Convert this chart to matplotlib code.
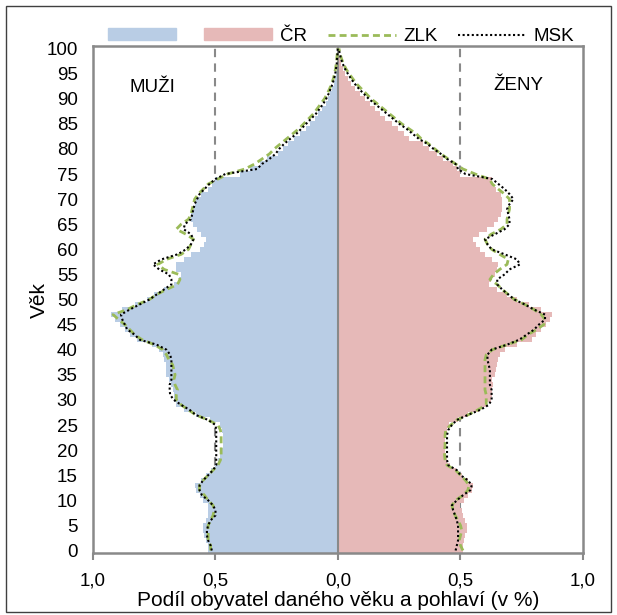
import matplotlib
matplotlib.use("Agg")
import matplotlib.pyplot as plt
from matplotlib.patches import Patch, Rectangle
from matplotlib.lines import Line2D
import numpy as np

plt.rcParams['font.family'] = ['Liberation Sans', 'DejaVu Sans']

ages = np.arange(0, 101)

# podíl mužů v ČR (v %) podle věku 0..100
men_cr = [0.53, 0.53, 0.54, 0.545, 0.55, 0.55, 0.54, 0.53, 0.53, 0.53,
          0.55, 0.565, 0.58, 0.585, 0.56, 0.54, 0.52, 0.50, 0.49, 0.48,
          0.475, 0.47, 0.47, 0.47, 0.475, 0.48, 0.524, 0.58, 0.63, 0.66,
          0.67, 0.67, 0.675, 0.68, 0.69, 0.70, 0.70, 0.70, 0.71, 0.715,
          0.73, 0.76, 0.82, 0.85, 0.87, 0.89, 0.91, 0.925, 0.88, 0.83,
          0.78, 0.75, 0.71, 0.67, 0.65, 0.64, 0.66, 0.66, 0.63, 0.60,
          0.565, 0.545, 0.537, 0.56, 0.575, 0.59, 0.60, 0.60, 0.59, 0.585,
          0.578, 0.56, 0.53, 0.515, 0.50, 0.40, 0.36, 0.32, 0.29, 0.245,
          0.225, 0.205, 0.18, 0.155, 0.13, 0.115, 0.095, 0.08, 0.065, 0.05,
          0.04, 0.032, 0.025, 0.018, 0.013, 0.009, 0.006, 0.004, 0.003, 0.002,
          0.001]
women_cr = [0.51, 0.51, 0.515, 0.52, 0.525, 0.525, 0.52, 0.51, 0.505, 0.50,
            0.515, 0.53, 0.545, 0.552, 0.53, 0.505, 0.48, 0.457, 0.445, 0.44,
            0.437, 0.437, 0.437, 0.44, 0.444, 0.455, 0.49, 0.53, 0.575, 0.61,
            0.625, 0.627, 0.63, 0.634, 0.63, 0.64, 0.645, 0.65, 0.654, 0.66,
            0.68, 0.73, 0.79, 0.81, 0.83, 0.85, 0.865, 0.872, 0.83, 0.78,
            0.73, 0.69, 0.65, 0.615, 0.625, 0.64, 0.65, 0.654, 0.63, 0.60,
            0.58, 0.565, 0.552, 0.575, 0.61, 0.635, 0.655, 0.665, 0.668, 0.668,
            0.668, 0.665, 0.645, 0.633, 0.627, 0.50, 0.485, 0.47, 0.43, 0.405,
            0.37, 0.345, 0.29, 0.27, 0.245, 0.22, 0.19, 0.17, 0.15, 0.13,
            0.11, 0.09, 0.07, 0.055, 0.04, 0.03, 0.02, 0.012, 0.007, 0.004,
            0.002]
men_zlk = [0.52, 0.52, 0.53, 0.53, 0.53, 0.53, 0.52, 0.51, 0.505, 0.51,
           0.53, 0.545, 0.565, 0.565, 0.55, 0.53, 0.51, 0.49, 0.48, 0.477,
           0.477, 0.477, 0.477, 0.477, 0.48, 0.49, 0.53, 0.58, 0.61, 0.64,
           0.66, 0.66, 0.655, 0.665, 0.67, 0.665, 0.67, 0.675, 0.69, 0.70,
           0.715, 0.75, 0.80, 0.83, 0.85, 0.87, 0.895, 0.918, 0.86, 0.82,
           0.77, 0.74, 0.70, 0.655, 0.645, 0.65, 0.71, 0.735, 0.70, 0.64,
           0.61, 0.60, 0.59, 0.62, 0.66, 0.64, 0.61, 0.60, 0.595, 0.59,
           0.585, 0.57, 0.55, 0.53, 0.49, 0.45, 0.38, 0.34, 0.31, 0.28,
           0.26, 0.235, 0.21, 0.185, 0.16, 0.14, 0.12, 0.10, 0.085, 0.07,
           0.055, 0.044, 0.034, 0.026, 0.019, 0.014, 0.01, 0.007, 0.005, 0.003,
           0.002]
men_msk = [0.515, 0.52, 0.53, 0.535, 0.535, 0.53, 0.52, 0.50, 0.50, 0.51,
           0.53, 0.555, 0.565, 0.565, 0.55, 0.53, 0.51, 0.497, 0.497, 0.497,
           0.497, 0.497, 0.497, 0.497, 0.497, 0.50, 0.53, 0.58, 0.605, 0.64,
           0.67, 0.685, 0.687, 0.687, 0.68, 0.68, 0.68, 0.68, 0.68, 0.685,
           0.70, 0.74, 0.81, 0.83, 0.86, 0.87, 0.88, 0.886, 0.85, 0.81,
           0.77, 0.74, 0.71, 0.68, 0.68, 0.69, 0.73, 0.755, 0.72, 0.655,
           0.62, 0.60, 0.59, 0.60, 0.63, 0.625, 0.60, 0.595, 0.59, 0.585,
           0.575, 0.565, 0.545, 0.525, 0.50, 0.46, 0.33, 0.31, 0.28, 0.255,
           0.24, 0.22, 0.195, 0.17, 0.15, 0.13, 0.11, 0.09, 0.075, 0.06,
           0.048, 0.038, 0.03, 0.022, 0.016, 0.011, 0.008, 0.005, 0.004, 0.002,
           0.001]
women_zlk = [0.51, 0.50, 0.495, 0.50, 0.505, 0.50, 0.49, 0.478, 0.47, 0.465,
             0.48, 0.51, 0.53, 0.535, 0.52, 0.50, 0.48, 0.445, 0.437, 0.435,
             0.435, 0.437, 0.437, 0.437, 0.44, 0.46, 0.485, 0.53, 0.57, 0.605,
             0.605, 0.605, 0.60, 0.60, 0.60, 0.60, 0.60, 0.60, 0.60, 0.605,
             0.63, 0.69, 0.75, 0.775, 0.81, 0.84, 0.845, 0.83, 0.80, 0.763,
             0.72, 0.695, 0.67, 0.65, 0.62, 0.635, 0.66, 0.69, 0.695, 0.66,
             0.627, 0.61, 0.60, 0.625, 0.665, 0.69, 0.69, 0.695, 0.70, 0.70,
             0.70, 0.68, 0.654, 0.63, 0.618, 0.56, 0.51, 0.48, 0.45, 0.42,
             0.395, 0.37, 0.34, 0.32, 0.29, 0.26, 0.235, 0.21, 0.185, 0.16,
             0.135, 0.115, 0.095, 0.075, 0.06, 0.045, 0.032, 0.022, 0.014, 0.008,
             0.004]
women_msk = [0.48, 0.485, 0.49, 0.49, 0.49, 0.49, 0.485, 0.478, 0.47, 0.465,
             0.485, 0.51, 0.54, 0.546, 0.53, 0.50, 0.485, 0.45, 0.445, 0.445,
             0.445, 0.445, 0.445, 0.445, 0.45, 0.465, 0.485, 0.53, 0.58, 0.615,
             0.627, 0.627, 0.627, 0.62, 0.62, 0.62, 0.62, 0.615, 0.61, 0.61,
             0.627, 0.69, 0.74, 0.77, 0.80, 0.82, 0.845, 0.845, 0.80, 0.763,
             0.72, 0.695, 0.67, 0.65, 0.65, 0.68, 0.70, 0.743, 0.73, 0.68,
             0.627, 0.61, 0.60, 0.64, 0.68, 0.70, 0.70, 0.695, 0.69, 0.70,
             0.716, 0.70, 0.68, 0.655, 0.63, 0.52, 0.49, 0.48, 0.445, 0.42,
             0.39, 0.365, 0.33, 0.305, 0.28, 0.25, 0.225, 0.20, 0.175, 0.15,
             0.125, 0.105, 0.085, 0.068, 0.053, 0.04, 0.028, 0.019, 0.012, 0.007,
             0.003]

x_ticks = [-1.0, -0.5, 0.0, 0.5, 1.0]
x_tick_labels = ['1,0', '0,5', '0,0', '0,5', '1,0']
y_ticks = list(range(0, 101, 5))

blue = '#b9cde5'
pink = '#e6b9b8'
green = '#9bbb59'
grey = '#898989'
zlk_ls = (0, (2.5, 1.5))
msk_ls = (0, (1, 1.2))

fig = plt.figure(figsize=(6.17, 6.15), dpi=100)
ax = fig.add_axes([0.1507, 0.1008, 0.7942, 0.8244])

# dělicí čáry 0,5 %
ax.axvline(-0.5, color=grey, lw=1.5, ls=(0, (4, 3)), zorder=1)
ax.axvline(0.5, color=grey, lw=1.5, ls=(0, (4, 3)), zorder=1)

ax.barh(ages, -np.array(men_cr), height=1.0, color=blue, lw=0, zorder=2)
ax.barh(ages, women_cr, height=1.0, color=pink, lw=0, zorder=2)
ax.axvline(0, color=grey, lw=1.5, zorder=3)

ax.plot(-np.array(men_zlk), ages, color=green, lw=2, ls=zlk_ls, zorder=4)
ax.plot(women_zlk, ages, color=green, lw=2, ls=zlk_ls, zorder=4)
ax.plot(-np.array(men_msk), ages, color='black', lw=1.5, ls=msk_ls, zorder=5)
ax.plot(women_msk, ages, color='black', lw=1.5, ls=msk_ls, zorder=5)

ax.set_xlim(-1, 1)
ax.set_ylim(-0.5, 100.5)
ax.set_xticks(x_ticks)
ax.set_xticklabels(x_tick_labels)
ax.set_yticks(y_ticks)
ax.tick_params(axis='x', length=5, width=1.5, color=grey, labelsize=13.5, pad=9)
ax.tick_params(axis='y', length=0, labelsize=13.5, pad=11)
for s in ax.spines.values():
    s.set_color(grey)
    s.set_linewidth(1.8)

ax.set_xlabel('Podíl obyvatel daného věku a pohlaví (v %)', fontsize=15, labelpad=1)
ax.set_ylabel('Věk', fontsize=15, labelpad=-2)

ax.text(-0.757, 92.2, 'MUŽI', fontsize=13.5, ha='center', va='center')
ax.text(0.735, 92.7, 'ŽENY', fontsize=13.5, ha='center', va='center')

handles = [Patch(color=blue), Patch(color=pink),
           Line2D([], [], color=green, lw=2, ls=zlk_ls),
           Line2D([], [], color='black', lw=1.5, ls=msk_ls)]
labels = ['', 'ČR', 'ZLK', 'MSK']
fig.legend(handles, labels, loc='center', bbox_to_anchor=(0.553, 0.941), ncol=4,
           frameon=False, fontsize=13.5, handlelength=3.63, handletextpad=0.4,
           columnspacing=1.1, handleheight=0.56)

fig.patches.append(Rectangle((0.0097, 0.005), 0.981, 0.985, transform=fig.transFigure,
                             fill=False, edgecolor='#404040', lw=1))

fig.savefig('out.png', dpi=100)
